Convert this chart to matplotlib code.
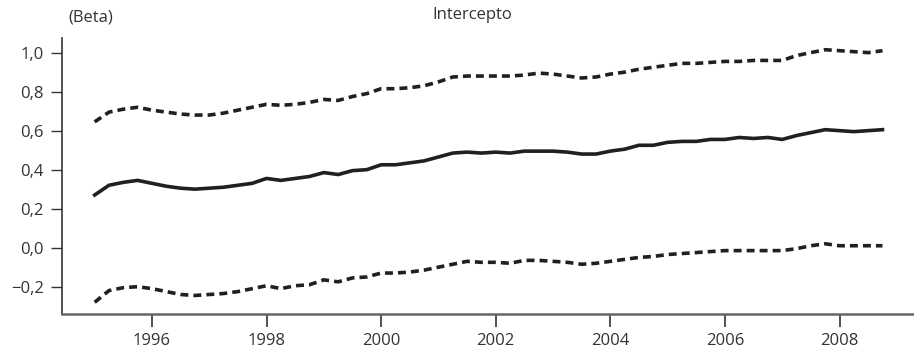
import matplotlib.pyplot as plt
import matplotlib.ticker as mticker
import numpy as np

plt.rcParams['font.family'] = ['Liberation Sans Narrow', 'Open Sans', 'DejaVu Sans']

# quarterly estimates, 1995Q1 .. 2008Q4
start_year = 1995
beta = [0.27, 0.32, 0.335, 0.345, 0.33, 0.315, 0.305, 0.30,
        0.305, 0.31, 0.32, 0.33, 0.355, 0.345, 0.355, 0.365,
        0.385, 0.375, 0.395, 0.40, 0.425, 0.425, 0.435, 0.445,
        0.465, 0.485, 0.49, 0.485, 0.49, 0.485, 0.495, 0.495,
        0.495, 0.49, 0.48, 0.48, 0.495, 0.505, 0.525, 0.525,
        0.54, 0.545, 0.545, 0.555, 0.555, 0.565, 0.56, 0.565,
        0.555, 0.575, 0.59, 0.605, 0.60, 0.595, 0.60, 0.605]
upper = [0.645, 0.695, 0.71, 0.72, 0.705, 0.695, 0.685, 0.68,
         0.68, 0.69, 0.705, 0.72, 0.735, 0.73, 0.735, 0.745,
         0.76, 0.755, 0.775, 0.79, 0.815, 0.815, 0.82, 0.83,
         0.85, 0.875, 0.88, 0.88, 0.88, 0.88, 0.885, 0.895,
         0.89, 0.88, 0.87, 0.875, 0.89, 0.90, 0.915, 0.925,
         0.935, 0.945, 0.945, 0.95, 0.955, 0.955, 0.96, 0.96,
         0.96, 0.985, 1.0, 1.015, 1.01, 1.005, 1.0, 1.01]
lower = [-0.28, -0.22, -0.205, -0.20, -0.21, -0.225, -0.24, -0.245,
         -0.24, -0.235, -0.225, -0.21, -0.195, -0.21, -0.195, -0.19,
         -0.165, -0.175, -0.155, -0.15, -0.13, -0.13, -0.125, -0.115,
         -0.10, -0.085, -0.07, -0.075, -0.075, -0.08, -0.065, -0.065,
         -0.07, -0.075, -0.085, -0.08, -0.07, -0.06, -0.05, -0.045,
         -0.035, -0.03, -0.025, -0.02, -0.015, -0.015, -0.015, -0.015,
         -0.015, -0.005, 0.01, 0.02, 0.01, 0.01, 0.01, 0.01]
xticks = [1996, 1998, 2000, 2002, 2004, 2006, 2008]
yticks = [-0.2, 0.0, 0.2, 0.4, 0.6, 0.8, 1.0]

t = start_year + np.arange(len(beta)) * 0.25

fig = plt.figure(figsize=(9.14, 3.56), dpi=100)
ax = fig.add_axes([62 / 914, 1 - 314 / 356, 1 - 62 / 914, 276 / 356])

ink = '#231f20'
ax.plot(t, beta, color=ink, lw=2.6, solid_joinstyle='round')
ax.plot(t, upper, color=ink, lw=2.6, dashes=(2.2, 1.4))
ax.plot(t, lower, color=ink, lw=2.6, dashes=(2.2, 1.4))

ax.set_xlim(1994.43, 2009.3)
ax.set_ylim(-0.34, 1.075)
ax.set_xticks(xticks)
ax.set_yticks(yticks)
ax.yaxis.set_major_formatter(mticker.FuncFormatter(
    lambda v, p: f'{v:.1f}'.replace('.', ',').replace('-', '\u2212')))

for s in ['top', 'right']:
    ax.spines[s].set_visible(False)
ax.spines['left'].set_color('#333333')
ax.spines['bottom'].set_color('#666666')
ax.spines['left'].set_linewidth(1.2)
ax.spines['bottom'].set_linewidth(1.8)
ax.tick_params(axis='y', length=8, width=1, color='#333333', labelsize=12,
               labelcolor='#333333', pad=5)
ax.tick_params(axis='x', length=9, width=1.2, color='#333333', labelsize=12,
               labelcolor='#333333', pad=5)

fig.text(68 / 914, 1 - 17 / 356, '(Beta)', fontsize=12, color='#333333', va='center')
fig.text(472 / 914, 1 - 15 / 356, 'Intercepto', fontsize=12, color='#333333',
         ha='center', va='center')

fig.savefig('out.png', dpi=100)
